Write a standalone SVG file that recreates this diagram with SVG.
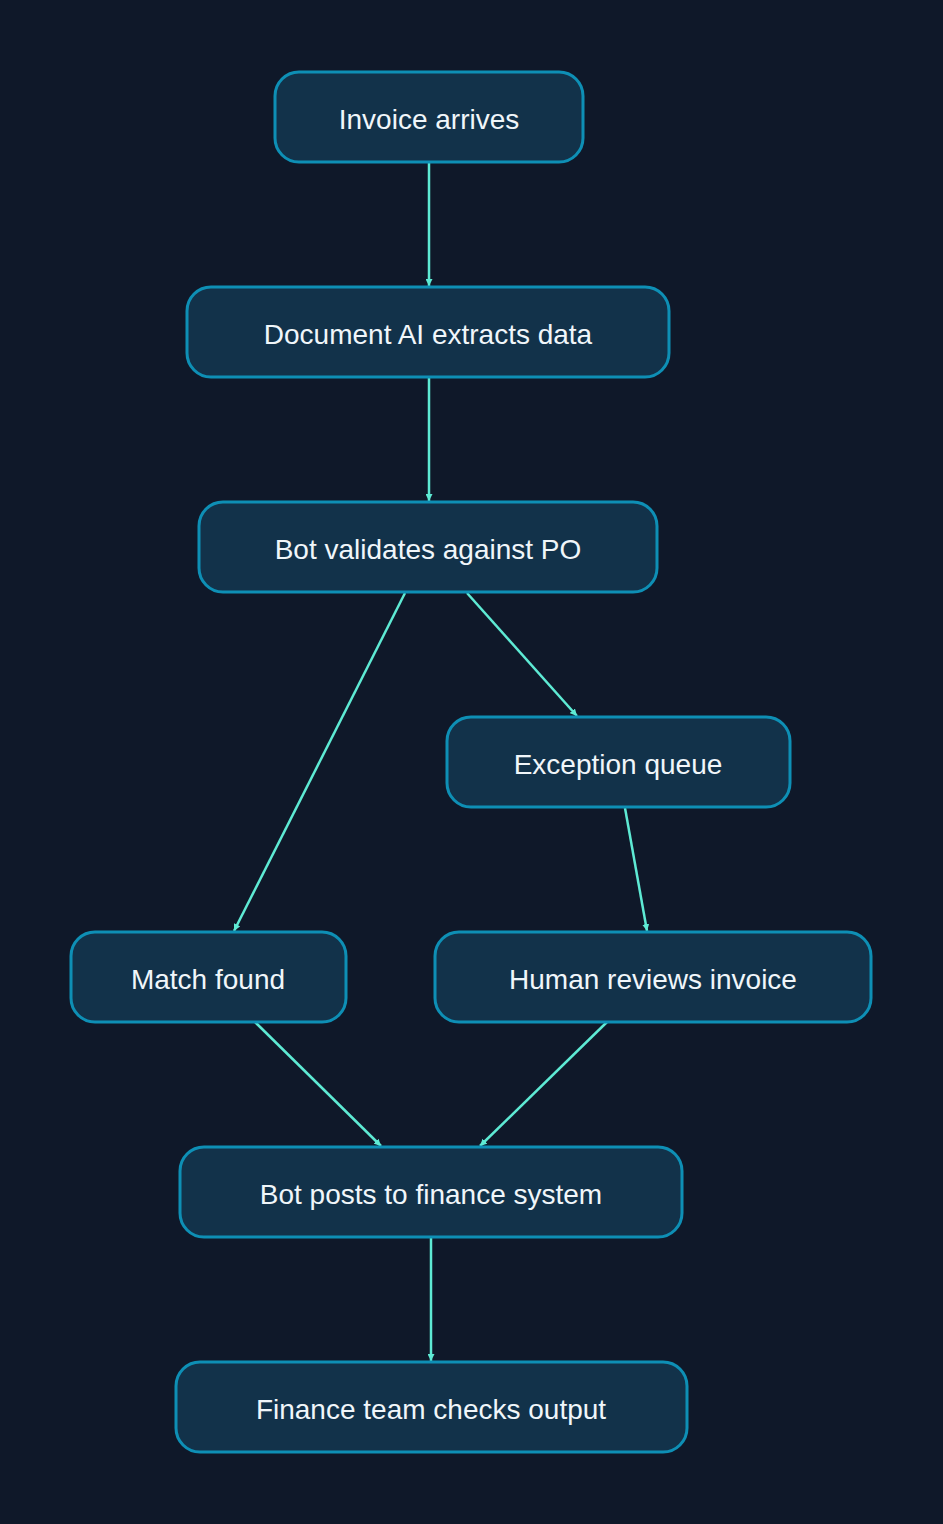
<svg xmlns="http://www.w3.org/2000/svg" width="943" height="1524" viewBox="0 0 943 1524">
<defs>
<style>
.n rect{fill:#12324a;stroke:#0e8fb5;stroke-width:3}
.n text{fill:#f0f6fa;font-family:"Liberation Sans",Arial,sans-serif;font-size:28px;text-anchor:middle;dominant-baseline:central}
#edges line{stroke:#5eead4;stroke-width:2.5;marker-end:url(#a)}
</style>
<marker id="a" viewBox="0 0 10 10" refX="10" refY="5" markerWidth="7" markerHeight="7" markerUnits="userSpaceOnUse" orient="auto"><path d="M0,0L10,5L0,10z" fill="#5eead4"/></marker>
</defs>
<rect width="943" height="1524" fill="#0f1829"/>
<g id="edges">
<line x1="429" y1="162" x2="429" y2="286"/>
<line x1="429" y1="377" x2="429" y2="501"/>
<line x1="405" y1="593" x2="234" y2="931"/>
<line x1="467" y1="593" x2="577" y2="716"/>
<line x1="625" y1="808" x2="647" y2="931"/>
<line x1="255" y1="1022" x2="381" y2="1146"/>
<line x1="607" y1="1022" x2="480" y2="1146"/>
<line x1="431" y1="1237" x2="431" y2="1361"/>
</g>
<g id="n1" class="n"><rect x="275" y="72" width="308" height="90" rx="24"/><text x="429" y="119">Invoice arrives</text></g>
<g id="n2" class="n"><rect x="187" y="287" width="482" height="90" rx="24"/><text x="428" y="334">Document AI extracts data</text></g>
<g id="n3" class="n"><rect x="199" y="502" width="458" height="90" rx="24"/><text x="428" y="549">Bot validates against PO</text></g>
<g id="n4" class="n"><rect x="447" y="717" width="343" height="90" rx="24"/><text x="618" y="764">Exception queue</text></g>
<g id="n5" class="n"><rect x="71" y="932" width="275" height="90" rx="24"/><text x="208" y="979">Match found</text></g>
<g id="n6" class="n"><rect x="435" y="932" width="436" height="90" rx="24"/><text x="653" y="979">Human reviews invoice</text></g>
<g id="n7" class="n"><rect x="180" y="1147" width="502" height="90" rx="24"/><text x="431" y="1194">Bot posts to finance system</text></g>
<g id="n8" class="n"><rect x="176" y="1362" width="511" height="90" rx="24"/><text x="431" y="1409">Finance team checks output</text></g>
</svg>
